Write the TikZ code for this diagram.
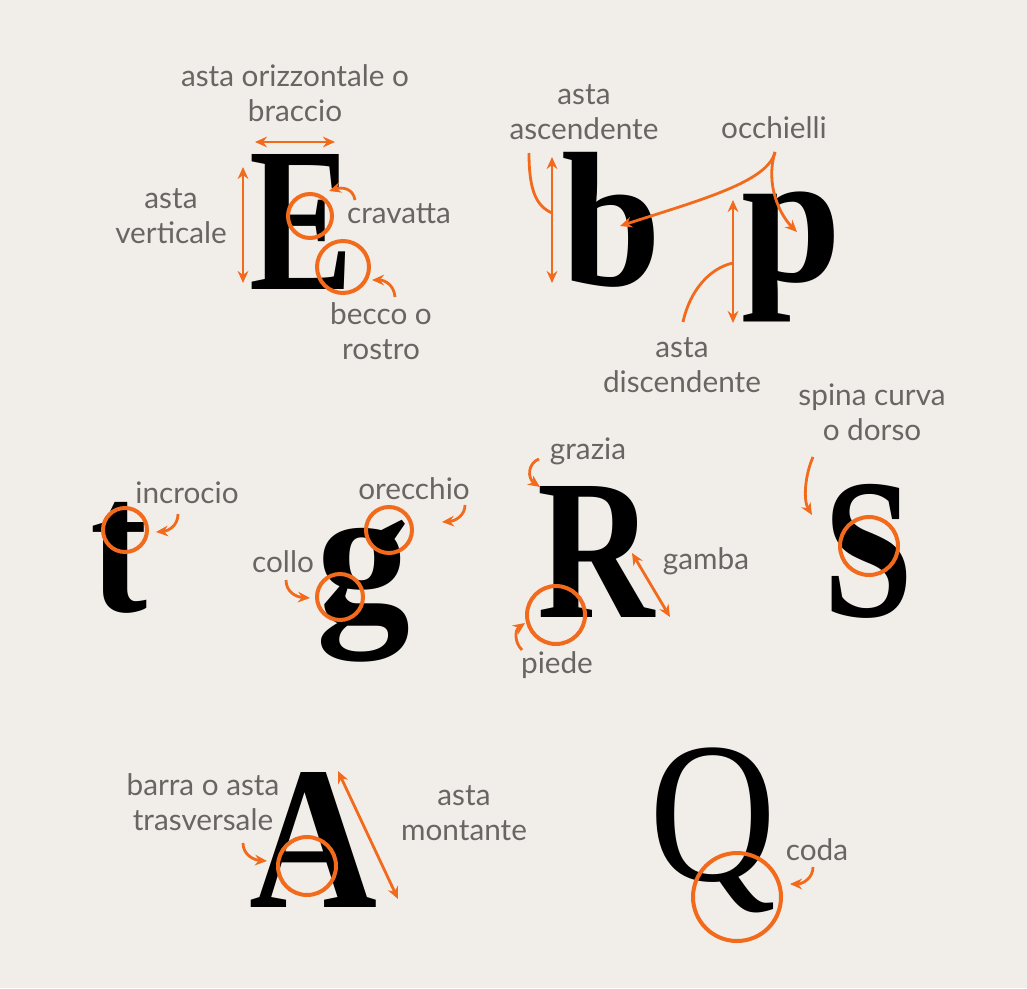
\documentclass[tikz,border=0pt]{standalone}
\usepackage{fontspec}
\setmainfont{Lato}
\newfontfamily\glyphfont{Liberation Serif}
\usetikzlibrary{arrows.meta}
\definecolor{bg}{HTML}{F1EEEA}
\definecolor{lab}{HTML}{686563}
\definecolor{org}{HTML}{F26A1B}
\newcommand\glyphB[3]{\resizebox*{#1pt}{#2pt}{\glyphfont\bfseries #3}}
\newcommand\glyphR[3]{\resizebox*{#1pt}{#2pt}{\glyphfont #3}}
\begin{document}
\begin{tikzpicture}[x=0.75pt,y=-0.75pt,
 lbl/.style={text=lab, font=\fontsize{22.3}{26.3}\selectfont, align=center, inner sep=0pt},
 gl/.style={inner sep=0pt, outer sep=0pt, text=black},
 ring/.style={draw=org, line width=3pt, circle, inner sep=0pt},
 tip/.style={-{Stealth[length=9pt,width=8pt]}},
 arr/.style={draw=org, line width=2.1pt, tip},
 darr/.style={draw=org, line width=2.1pt, {Stealth[length=9pt,width=8pt]}-{Stealth[length=9pt,width=8pt]}},
 lin/.style={draw=org, line width=2.1pt}]
\fill[bg] (0,0) rectangle (1027,988);
\useasboundingbox (0,0) rectangle (1027,988);

% glyphs
\node[gl] (E) at (302,222) {\glyphB{78}{101.25}{E}};
\node[gl] (b) at (612,220) {\glyphB{75}{101.25}{b}};
\node[gl] (p) at (792,257) {\glyphB{75}{97.5}{p}};
\node[gl] (t) at (119,558) {\glyphB{42.75}{83.25}{t}};
\node[gl] (g) at (363,591) {\glyphB{70.5}{106.5}{g}};
\node[gl] (R) at (596,552) {\glyphB{87.75}{98.25}{R}};
\node[gl] (S) at (869,551) {\glyphB{67.5}{100.5}{S}};
\node[gl] (A) at (314,840) {\glyphB{96}{101.25}{A}};
\node[gl] (Q) at (713,830) {\glyphR{95.25}{123.75}{Q}};

% rings
\node[ring, minimum size=33pt] (rcrav) at (310,216) {};
\node[ring, minimum size=39pt] (rbecc) at (343,267) {};
\node[ring, minimum size=33pt] (rincr) at (125,530) {};
\node[ring, minimum size=34.5pt] (rorec) at (389,530) {};
\node[ring, minimum size=34.5pt] (rcoll) at (340,597) {};
\node[ring, minimum size=43.5pt] (rpied) at (556,615) {};
\node[ring, minimum size=43.5pt] (rspin) at (869,546) {};
\node[ring, minimum size=43.5pt] (rbarr) at (307,866) {};
\node[ring, minimum size=66pt] (rcoda) at (737,897) {};

% labels
\node[lbl] (lor) at (295,93) {asta orizzontale o\\braccio};
\node[lbl] (lve) at (171,216) {asta\\verticale};
\node[lbl] (lcr) at (399,214) {cravatta};
\node[lbl] (lbe) at (381,331) {becco o\\rostro};
\node[lbl] (las) at (584,112) {asta\\ascendente};
\node[lbl] (loc) at (774,128) {occhielli};
\node[lbl] (ldi) at (682,365) {asta\\discendente};
\node[lbl] (lsp) at (872,412) {spina curva\\o dorso};
\node[lbl] (lin) at (187,493) {incrocio};
\node[lbl] (lorc) at (414,489) {orecchio};
\node[lbl] (lco) at (283,562) {collo};
\node[lbl] (lgr) at (588,451) {grazia};
\node[lbl] (lga) at (706,561) {gamba};
\node[lbl] (lpi) at (557,665) {piede};
\node[lbl] (lba) at (203,802) {barra o asta\\trasversale};
\node[lbl] (lmo) at (464,813) {asta\\montante};
\node[lbl] (lcd) at (817,850) {coda};

% coordinates
\coordinate (h1) at (255,142); \coordinate (h2) at (335,142);
\coordinate (v1) at (243,167); \coordinate (v2) at (243,283);
\coordinate (cr0) at (355,200); \coordinate (cr1) at (329,191);
\coordinate (be0) at (395,297); \coordinate (be1) at (372,280);
\coordinate (as1) at (552,157); \coordinate (as2) at (552,283);
\coordinate (as0) at (529,153); \coordinate (asm) at (552,213);
\coordinate (oc0) at (775,152); \coordinate (ocb) at (620,226); \coordinate (ocp) at (797,232);
\coordinate (di1) at (733,200); \coordinate (di2) at (733,323);
\coordinate (di0) at (683,322); \coordinate (dim) at (733,263);
\coordinate (in0) at (178,514); \coordinate (in1) at (156,532);
\coordinate (or0) at (465,505); \coordinate (or1) at (442,522);
\coordinate (co0) at (286,580); \coordinate (co1) at (310,598);
\coordinate (gr0) at (539,459); \coordinate (gr1) at (540,487);
\coordinate (ga1) at (632,553); \coordinate (ga2) at (670,617);
\coordinate (pi0) at (522,650); \coordinate (pi1) at (525,623);
\coordinate (sp0) at (813,457); \coordinate (sp1) at (812,515);
\coordinate (ba0) at (243,843); \coordinate (ba1) at (267,861);
\coordinate (mo1) at (338,771); \coordinate (mo2) at (398,899);
\coordinate (cd0) at (813,867); \coordinate (cd1) at (790,884);

% connectors
\draw[darr] (h1) -- (h2);
\draw[darr] (v1) -- (v2);
\draw[arr] (cr0) .. controls (353,188) and (342,187) .. (cr1);
\draw[arr] (be0) .. controls (394,285) and (385,280) .. (be1);
\draw[darr] (as1) -- (as2);
\draw[lin] (as0) .. controls (529,190) and (536,206) .. (asm);
\draw[arr] (oc0) .. controls (768,182) and (700,200) .. (ocb);
\draw[arr] (oc0) .. controls (765,185) and (780,215) .. (ocp);
\draw[darr] (di1) -- (di2);
\draw[lin] (di0) .. controls (690,290) and (710,268) .. (dim);
\draw[arr] (in0) .. controls (178,526) and (168,531) .. (in1);
\draw[arr] (or0) .. controls (465,515) and (456,521) .. (or1);
\draw[arr] (co0) .. controls (286,592) and (296,597) .. (co1);
\draw[arr] (gr0) .. controls (528,463) and (527,478) .. (gr1);
\draw[darr] (ga1) -- (ga2);
\draw[arr] (pi0) .. controls (514,642) and (515,630) .. (pi1);
\draw[arr] (sp0) .. controls (805,475) and (803,500) .. (sp1);
\draw[arr] (ba0) .. controls (243,855) and (254,860) .. (ba1);
\draw[darr] (mo1) -- (mo2);
\draw[arr] (cd0) .. controls (813,878) and (803,884) .. (cd1);
\end{tikzpicture}
\end{document}
